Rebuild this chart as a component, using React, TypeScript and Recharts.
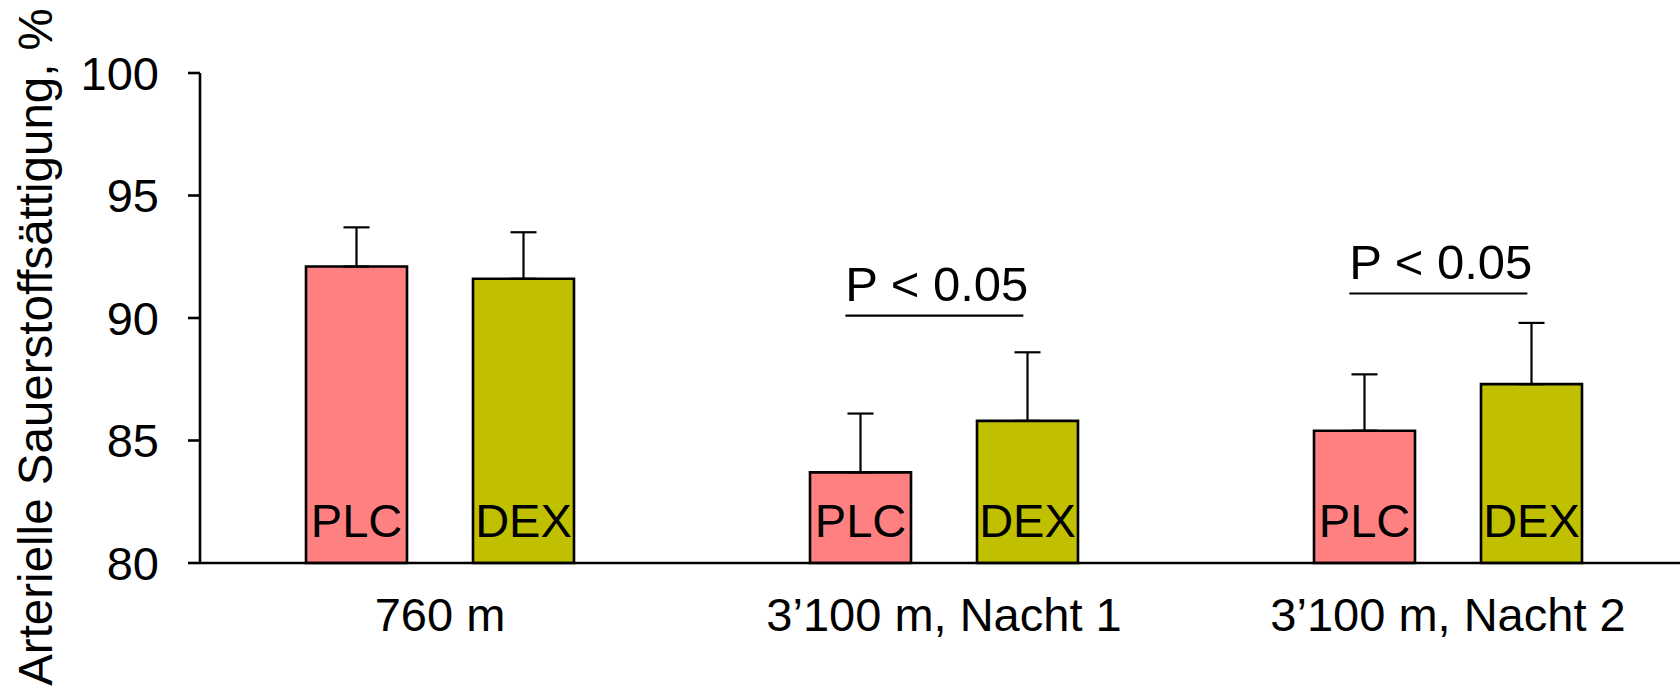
import { BarChart, Bar, XAxis, YAxis, ErrorBar, LabelList } from "recharts";

const categories = ["760 m", "3’100 m, Nacht 1", "3’100 m, Nacht 2"];
const plcValues = [92.1, 83.7, 85.4];
const dexValues = [91.6, 85.8, 87.3];
const plcErrors = [1.6, 2.4, 2.3];
const dexErrors = [1.9, 2.8, 2.5];
// level of the significance bracket per group (null = no bracket)
const sigLevels: (number | null)[] = [null, 90.1, 91.0];
const sigLabel = "P < 0.05";
const yTicks = [80, 85, 90, 95, 100];

const Y_MIN = yTicks[0];
const Y_MAX = yTicks[yTicks.length - 1];
const PLC_COLOR = "#FF8080";
const DEX_COLOR = "#C0C000";
const FONT = '"Liberation Sans", Arial, sans-serif';

const data = categories.map((name, i) => ({
  name,
  plc: plcValues[i],
  dex: dexValues[i],
  // only the upper whisker is drawn
  plcErr: [0, plcErrors[i]],
  dexErr: [0, dexErrors[i]],
  sig: sigLevels[i],
}));

// bracket + p-value above the PLC/DEX pair, placed from the PLC bar geometry
function SigBracket(props: any) {
  const { viewBox, index } = props;
  const row = data[index];
  if (!row || row.sig == null || !viewBox) return null;
  const { x, y, width, height } = viewBox;
  const bottom = y + height;
  const perUnit = height / (row.plc - Y_MIN);
  const lineY = bottom - (row.sig - Y_MIN) * perUnit;
  const x1 = x + width * 0.35;
  const x2 = x1 + 178;
  return (
    <g>
      <line x1={x1} x2={x2} y1={lineY} y2={lineY} stroke="#000" strokeWidth={2.2} />
      <text x={x1} y={lineY - 15} fontSize={49} fill="#000" fontFamily={FONT}>
        {sigLabel}
      </text>
    </g>
  );
}

function YTitle() {
  return (
    <text
      x={52}
      y={347}
      transform="rotate(-90, 52, 347)"
      textAnchor="middle"
      fontSize={47.5}
      fill="#000"
      fontFamily={FONT}
    >
      Arterielle Sauerstoffsättigung, %
    </text>
  );
}

const tickStyle = { fill: "#000", fontSize: 47, fontFamily: FONT };
const blackLine = { stroke: "#000", strokeWidth: 2.6 };

export default function App() {
  return (
    <div
      style={{
        position: "absolute",
        left: 0,
        top: 0,
        width: 1680,
        height: 694,
        overflow: "hidden",
        background: "#fff",
        fontFamily: FONT,
      }}
    >
      <BarChart
        width={1700}
        height={694}
        data={data}
        margin={{ top: 73, right: 0, bottom: 0, left: 0 }}
        barGap={66}
        barSize={101}
      >
        <XAxis
          dataKey="name"
          interval={0}
          tickLine={false}
          tickSize={0}
          tickMargin={35}
          height={131}
          axisLine={blackLine}
          tick={tickStyle}
          padding={{ left: -12, right: 0 }}
        />
        <YAxis
          width={200}
          domain={[Y_MIN, Y_MAX]}
          ticks={yTicks}
          interval={0}
          tickSize={12}
          tickMargin={29}
          axisLine={blackLine}
          tickLine={blackLine}
          tick={tickStyle}
          label={YTitle as any}
        />
        <Bar dataKey="plc" fill={PLC_COLOR} stroke="#000" strokeWidth={2.6} isAnimationActive={false}>
          <ErrorBar dataKey="plcErr" width={13} stroke="#000" strokeWidth={2.2} />
          <LabelList
            valueAccessor={() => "PLC"}
            position="insideBottom"
            offset={26}
            fill="#000"
            fontSize={47}
          />
          <LabelList content={SigBracket} />
        </Bar>
        <Bar dataKey="dex" fill={DEX_COLOR} stroke="#000" strokeWidth={2.6} isAnimationActive={false}>
          <ErrorBar dataKey="dexErr" width={13} stroke="#000" strokeWidth={2.2} />
          <LabelList
            valueAccessor={() => "DEX"}
            position="insideBottom"
            offset={26}
            fill="#000"
            fontSize={47}
          />
        </Bar>
      </BarChart>
    </div>
  );
}
